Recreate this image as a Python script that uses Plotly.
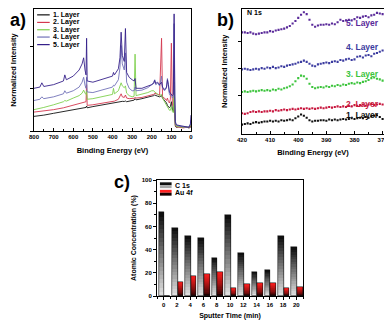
import plotly.graph_objects as go

# the page body keeps its default 8px margin, so the figure is drawn 8px in from the window edge
PAD = 8
W, H = 392 - PAD, 321 - PAD

# ---- a) survey spectra ----
survey_ev = [800, 770, 760, 750, 700, 650, 643, 635, 600, 570, 555, 547, 540, 535, 532, 529,
             500, 450, 400, 395, 390, 370, 362, 356, 350, 340, 334, 328, 315, 300, 290, 285,
             280, 250, 220, 200, 190, 185, 180, 170, 160, 150, 145, 135, 125, 120, 115, 110,
             105, 100, 95, 90, 86, 83, 80, 75, 60, 40, 25, 10, 3, 0]
survey_l1 = [12, 12.5, 12.7, 13, 14.5, 16, 16.2, 16.4, 17.5, 18.3, 18.8, 19, 19.2, 19.3, 20.5, 19,
             20, 21.5, 23, 23.2, 23.2, 23.5, 24, 24.5, 24.3, 24.2, 24.6, 24, 24.5, 25, 25.3, 26.5,
             25.5, 26.5, 27.5, 28.5, 29, 29.5, 29, 28.5, 28, 29, 27, 25, 23, 21, 20, 19,
             20, 24, 18, 16, 22, 12, 4, 3, 3.5, 3, 3.2, 2.5, 3, 5]
survey_l2 = [15.5, 16, 16.3, 16.5, 17.5, 19, 19.3, 19.5, 21, 22, 22.5, 23, 23.5, 24, 38, 21,
             21.5, 23, 24, 24.5, 24.5, 26, 28, 30.5, 28, 27.5, 29.5, 27, 26.5, 26.5, 26.8, 27.5,
             27, 27.5, 28.5, 29.5, 30, 31, 30.5, 30, 29.5, 76, 28, 27, 25, 27, 24, 23,
             26, 72, 22, 20, 30, 15, 5, 3.5, 3, 2.5, 3, 2.8, 3.5, 6]
survey_l3 = [17.5, 18.5, 19, 19.3, 21.5, 24, 25, 24.5, 27, 29, 31, 33.5, 31, 30, 33, 26,
             26.5, 28, 30, 35, 30.5, 33, 37, 39.5, 37, 35.5, 37, 31, 29, 28, 28.5, 63,
             29, 30, 31.5, 33, 33, 32, 31.5, 30.5, 29, 30, 27, 24, 21, 19, 18, 17,
             17, 20, 16, 15, 40, 12, 6, 4, 3.5, 3, 3.5, 3, 4, 7]
survey_l4 = [25, 26, 28, 26.5, 28, 30.5, 33, 31, 33, 36, 40, 44, 37.5, 35, 44, 32,
             31.5, 33.5, 36, 37.5, 37, 42, 52, 70, 55, 50, 64, 40, 35, 33, 33, 36,
             33, 33.5, 35.5, 38, 40, 42, 38, 39, 37, 45, 35, 33, 35, 43, 33, 30,
             29, 30, 27, 28, 88, 25, 7, 5, 4, 3.5, 3, 3.5, 5, 9]
survey_l5 = [35, 36, 39.5, 36.5, 38, 41, 46, 42, 45, 50, 55, 60, 50, 46, 76, 41,
             40, 42.5, 45, 48, 46, 51, 60, 81, 62, 57, 84, 48, 44, 42, 41, 43,
             35, 35, 36.5, 38, 39, 41.5, 39, 40, 38, 40, 36, 34, 36, 42, 38, 32,
             31, 30, 29, 30, 96, 28, 8, 5, 4.5, 4, 3.5, 3, 6, 13]

layer_names = ['1. Layer', '2. Layer', '3. Layer', '4. Layer', '5. Layer']
survey_colors = ['#111111', '#d4384f', '#7fd04e', '#7272b8', '#35208a']

# ---- b) N 1s region ----
n1s_ev = [420, 419, 418, 417, 416, 415, 414, 413, 412, 411, 410, 409, 408, 407, 406, 405,
          404, 403, 402, 401, 400, 399, 398, 397, 396, 395, 394, 393, 392, 391, 390, 389,
          388, 387, 386, 385, 384, 383, 382, 381, 380, 379, 378, 377, 376, 375, 374, 373,
          372, 371, 370]
n1s_l1 = [7.5, 8, 8.5, 8, 9, 9.5, 9, 9.5, 10, 10, 10.5, 10, 10.5, 10, 11, 10.5,
          11, 11.5, 11, 12.5, 14, 15.5, 14.5, 13, 11, 10, 10.5, 10.5, 11, 11, 10.5, 11.5,
          11, 11.5, 11, 11.5, 12, 11.5, 12, 12.5, 12, 12.5, 13, 12.5, 13.5, 13, 14, 14.5,
          15, 13.5, 12]
n1s_l2 = [16.5, 16, 16.5, 17.5, 18, 17.5, 18, 17.5, 18, 18, 18.5, 18, 19, 18.5, 19, 19.5,
          19, 19.5, 20, 19.5, 20, 20.5, 20, 20.5, 20, 20.5, 20, 20.5, 21, 20.5, 21, 21.5,
          21, 21.5, 22, 21.5, 22, 21.5, 22.5, 22, 23, 22.5, 23, 23.5, 22.5, 23.5, 24, 23,
          23.5, 24, 23.5]
n1s_l3 = [33.5, 34, 33.5, 34, 34.5, 34, 34.5, 35, 34.5, 35, 34.5, 35.5, 35, 36, 35.5, 36.5,
          37, 38, 39.5, 42, 44.5, 46.5, 46, 44, 40, 37.5, 36.5, 37, 37.5, 37, 38, 37.5,
          38.5, 38, 39, 38.5, 39.5, 39, 40, 40.5, 40, 41, 40.5, 41.5, 42, 43, 44.5, 45,
          44, 43.5, 42.5]
n1s_l4 = [51.5, 52, 51.5, 51, 51.5, 52, 51.5, 52.5, 52, 53, 52.5, 53.5, 52.5, 53, 54, 53.5,
          54.5, 55, 55.5, 56, 57, 57.5, 58.5, 57.5, 56, 54.5, 54, 55.5, 56, 56.5, 57, 56.5,
          57.5, 58, 57.5, 59, 58.5, 59.5, 60, 59, 59.5, 61.5, 62, 61, 62.5, 63, 62, 64,
          64.5, 65.5, 66.5]
n1s_l5 = [81, 81, 80.5, 81, 80, 79.5, 80, 80.5, 81, 81, 82, 81.5, 82.5, 83, 83.5, 84,
          85, 86, 88, 90, 92.5, 95, 97, 95.5, 91, 87, 85.5, 86.5, 87, 87, 87.5, 87,
          88, 87.5, 89, 91, 90, 90.5, 91, 90.5, 91.5, 93, 92.5, 93.5, 94, 93, 94.5, 95,
          96.5, 96, 95.5]
n1s_colors = ['#111111', '#c8183f', '#3cc43c', '#3c3ca0', '#5a2a9a']
n1s_label_y = [15, 24, 48, 69, 88.5]

# ---- c) depth profile ----
sputter_time = [0, 2, 4, 6, 8, 10, 12, 14, 16, 18, 20]
c1s_conc = [72, 59, 52, 50, 33, 70, 37, 21, 22, 52, 42]
au4f_conc = [0, 12, 17, 19, 21, 6.5, 10, 11, 11, 6.5, 8]


def dom_x(a, b):
    return [max(0, (a - PAD) / W), min(1, (b - PAD) / W)]


def dom_y(top, bottom):
    return [max(0, 1 - (bottom - PAD) / H), min(1, 1 - (top - PAD) / H)]


def mix(c0, c1, t):
    return 'rgb(%d,%d,%d)' % tuple(round(a + (b - a) * t) for a, b in zip(c0, c1))


fig = go.Figure()

for name, ys, col in zip(layer_names, [survey_l1, survey_l2, survey_l3, survey_l4, survey_l5], survey_colors):
    fig.add_trace(go.Scatter(x=survey_ev, y=ys, name=name, mode='lines',
                             line=dict(color=col, width=0.9), xaxis='x', yaxis='y', showlegend=False))

for name, ys, col in zip(layer_names, [n1s_l1, n1s_l2, n1s_l3, n1s_l4, n1s_l5], n1s_colors):
    fig.add_trace(go.Scatter(x=n1s_ev, y=ys, name=name, mode='markers',
                             marker=dict(color=col, size=2.1, symbol='square'),
                             xaxis='x2', yaxis='y2', showlegend=False))

# gradient bars: overlay shrinking copies of each bar, lighter towards the base
steps = 20
for k in range(steps, 0, -1):
    f = k / steps
    t = (k - 0.5) / steps
    fig.add_trace(go.Bar(x=sputter_time, y=[v * f for v in c1s_conc], offset=-0.75, width=0.85,
                         marker=dict(color=mix((228, 228, 228), (10, 10, 10), t), line=dict(width=0)),
                         xaxis='x3', yaxis='y3', showlegend=False, name='C 1s'))
    fig.add_trace(go.Bar(x=sputter_time, y=[v * f for v in au4f_conc], offset=0.1, width=0.85,
                         marker=dict(color=mix((15, 0, 0), (255, 30, 30), t ** 0.7), line=dict(width=0)),
                         xaxis='x3', yaxis='y3', showlegend=False, name='Au 4f'))
for vals, off in [(c1s_conc, -0.75), (au4f_conc, 0.1)]:
    fig.add_trace(go.Bar(x=sputter_time, y=vals, offset=off, width=0.85,
                         marker=dict(color='rgba(0,0,0,0)', line=dict(color='#111', width=0.6)),
                         xaxis='x3', yaxis='y3', showlegend=False))

# panel b labels
for name, ly, col in zip(layer_names, n1s_label_y, n1s_colors):
    fig.add_annotation(x=370.4, y=ly, xref='x2', yref='y2', text=name, showarrow=False,
                       xanchor='right', yanchor='middle', font=dict(size=8.5, color=col, weight='bold'))
fig.add_annotation(x=0.02, y=0.965, xref='x2 domain', yref='y2 domain', text='N 1s', showarrow=False,
                   xanchor='left', yanchor='middle', font=dict(size=7, weight='bold'))

# panel a legend
leg_y = [0.952, 0.89, 0.83, 0.77, 0.708]
for name, col, ly in zip(layer_names, survey_colors, leg_y):
    fig.add_shape(type='line', xref='x domain', yref='y domain', x0=0.02, x1=0.1, y0=ly, y1=ly,
                  line=dict(color=col, width=1.2))
    fig.add_annotation(x=0.11, y=ly, xref='x domain', yref='y domain', text=name, showarrow=False,
                       xanchor='left', yanchor='middle', font=dict(size=7, weight='bold'))

# panel c legend
for name, top_c, bot_c, ly in [('C 1s', '#111111', '#a8a8a8', 0.955), ('Au 4f', '#ff2020', '#150000', 0.89)]:
    fig.add_shape(type='rect', xref='x3 domain', yref='y3 domain', x0=0.02, x1=0.1, y0=ly, y1=ly + 0.025,
                  fillcolor=top_c, line=dict(width=0))
    fig.add_shape(type='rect', xref='x3 domain', yref='y3 domain', x0=0.02, x1=0.1, y0=ly - 0.025, y1=ly,
                  fillcolor=bot_c, line=dict(width=0))
    fig.add_annotation(x=0.11, y=ly, xref='x3 domain', yref='y3 domain', text=name, showarrow=False,
                       xanchor='left', yanchor='middle', font=dict(size=7, weight='bold'))

for txt, px, py in [('a)', PAD, PAD), ('b)', 215, PAD), ('c)', 112, 170)]:
    fig.add_annotation(x=(px - PAD) / W, y=1 - (py - PAD) / H, xref='paper', yref='paper', text=txt,
                       showarrow=False, xanchor='left', yanchor='top', font=dict(size=18, weight='bold'))

axis_common = dict(showline=True, mirror=True, linecolor='black', linewidth=1, showgrid=False,
                   zeroline=False, automargin=False, tickcolor='black', ticklen=3,
                   tickfont=dict(size=6, weight='bold'))
title_font = dict(size=7.5, weight='bold')

fig.update_layout(
    width=W, height=H, margin=dict(l=0, r=0, t=0, b=0),
    paper_bgcolor='white', plot_bgcolor='white',
    font=dict(family='Liberation Sans, Arial, sans-serif', color='black', size=6, weight='bold'),
    barmode='overlay', bargap=0,
    xaxis=dict(axis_common, domain=dom_x(34, 191), range=[800, 0], anchor='y', dtick=100,
               ticks='inside', minor=dict(dtick=50, ticks='inside', ticklen=2),
               title=dict(text='Binding Energy (eV)', font=title_font, standoff=8)),
    yaxis=dict(axis_common, domain=dom_y(9, 131), range=[0, 100], anchor='x', tickvals=[0, 34.5, 69],
               ticks='outside', showticklabels=False,
               title=dict(text='Normalized Intensity', font=title_font, standoff=12)),
    xaxis2=dict(axis_common, domain=dom_x(242, 384), range=[420, 369.5], anchor='y2', dtick=10,
                ticks='inside', minor=dict(dtick=5, ticks='inside', ticklen=2),
                title=dict(text='Binding Energy (eV)', font=title_font, standoff=7)),
    yaxis2=dict(axis_common, domain=dom_y(8.5, 134), range=[0, 100], anchor='x2', tickvals=[31, 52.5, 74],
                ticks='outside', showticklabels=False,
                title=dict(text='Normalized Intensity', font=title_font, standoff=9)),
    xaxis3=dict(axis_common, domain=dom_x(157, 303), range=[-1, 21], anchor='y3',
                tickvals=sputter_time, ticks='outside', minor=dict(dtick=1, ticks='outside', ticklen=2),
                title=dict(text='Sputter Time (min)', font=dict(size=7, weight='bold'), standoff=5)),
    yaxis3=dict(axis_common, domain=dom_y(180, 296), range=[0, 100], anchor='x3', dtick=20,
                ticks='outside', minor=dict(dtick=10, ticks='outside', ticklen=2),
                title=dict(text='Atomic Concentration (%)', font=dict(size=7, weight='bold'), standoff=4)),
)

fig.write_html("out.html")
